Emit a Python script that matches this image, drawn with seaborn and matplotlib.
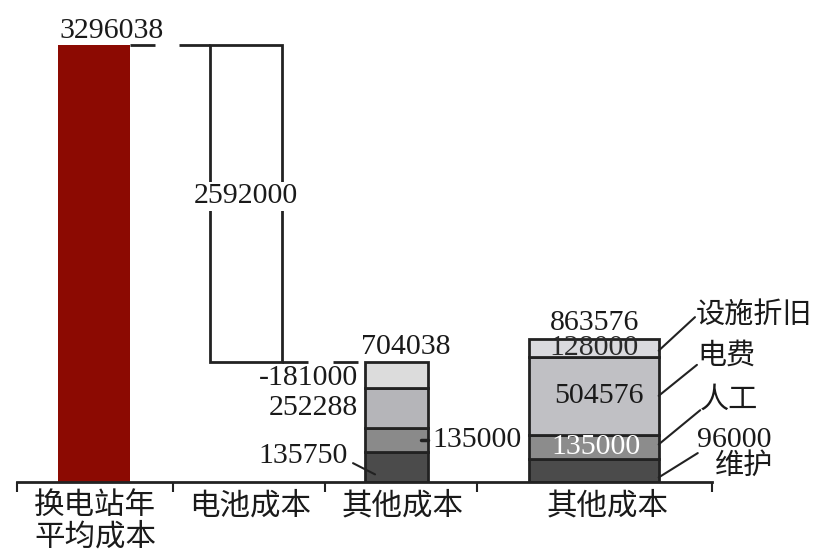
import numpy as np
import matplotlib
matplotlib.use("Agg")
import matplotlib.pyplot as plt
import seaborn as sns

# ---- data -------------------------------------------------------------
station_total = 3296038          # 换电站年平均成本
battery_cost = 2592000           # 电池成本

# 其他成本 (first breakdown), bottom -> top
other_a_values = [135750, 135000, 252288, 181000]
other_a_texts = ["135750", "135000", "252288", "-181000"]

# 其他成本 (second breakdown), bottom -> top
other_b_names = ["维护", "人工", "电费", "设施折旧"]
other_b_values = [96000, 135000, 504576, 128000]

category_labels = ["换电站年\n平均成本", "电池成本", "其他成本", "其他成本"]

# ---- styling ------------------------------------------------------------
sns.set_theme(style="white")
plt.rcParams["font.family"] = ["Liberation Serif", "Noto Sans CJK SC", "DejaVu Sans"]
NUM_FONT = ["Liberation Serif", "DejaVu Serif"]
CJK_FONT = ["Noto Sans CJK SC", "DejaVu Sans"]
NUM_FS = 21.5
CJK_FS = 22
INK = "#222222"
TXT = "#1a1a1a"

red = "#8c0a02"
colors_a = ["#4b4b4b", "#8a8a8a", "#b5b5b9", "#dcdcdc"]
colors_b = ["#4b4b4b", "#8c8c8c", "#c0c0c4", "#dadade"]

# compressed (power) value axis so the small cost items stay readable
POWER = 0.835


def fwd(v):
    v = np.asarray(v, dtype=float)
    return np.sign(v) * np.abs(v) ** POWER


def inv(y):
    y = np.asarray(y, dtype=float)
    return np.sign(y) * np.abs(y) ** (1 / POWER)


def seg_pos(bottom, height, frac):
    """Value lying at a given fraction of a segment on the compressed axis."""
    lo, hi = fwd(bottom), fwd(bottom + height)
    return float(inv(lo + frac * (hi - lo)))


# layout (x in slot units)
centers = [0.0, 1.0, 1.99, 3.29]
widths = [0.474, 0.474, 0.414, 0.85]
dividers = [-0.507, 0.52, 1.52, 2.52, 4.066]
label_x = [0.007, 1.03, 2.03, 3.38]

fig = plt.figure(figsize=(8.18, 5.56), dpi=100)
ax = fig.add_axes([0, 74 / 556, 1, 482 / 556])
ax.set_facecolor("white")

# total bar
sns.barplot(x=[centers[0]], y=[station_total], native_scale=True,
            width=widths[0], color=red, saturation=1, edgecolor=red,
            linewidth=0, ax=ax)

# floating battery bar
other_a_total = sum(other_a_values)
other_b_total = sum(other_b_values)
battery_bottom = station_total - battery_cost
ax.bar(centers[1], battery_cost, bottom=battery_bottom, width=widths[1],
       facecolor="white", edgecolor=INK, linewidth=2)


# stacked breakdowns
def stack(xc, w, values, cols):
    bottoms = []
    b = 0
    for v, c in zip(values, cols):
        ax.bar(xc, v, bottom=b, width=w, facecolor=c, edgecolor=INK, linewidth=2)
        bottoms.append(b)
        b += v
    return bottoms


bots_a = stack(centers[2], widths[2], other_a_values, colors_a)
bots_b = stack(centers[3], widths[3], other_b_values, colors_b)

ax.set_yscale("function", functions=(fwd, inv))
ax.set_ylim(0, float(inv(fwd(station_total) * 482 / 437)))


# broken connector lines
def connector(x0, x1, y, first=0.31, second=0.61, end=1.0):
    span = x1 - x0
    ax.plot([x0, x0 + first * span], [y, y], color=INK, lw=2, solid_capstyle="butt")
    ax.plot([x0 + second * span, x0 + end * span], [y, y], color=INK, lw=2,
            solid_capstyle="butt")


b1_right = centers[0] + widths[0] / 2
b2_left = centers[1] - widths[1] / 2
b2_right = centers[1] + widths[1] / 2
b3_left = centers[2] - widths[2] / 2
b3_right = centers[2] + widths[2] / 2
b4_right = centers[3] + widths[3] / 2

connector(b1_right, b2_left, station_total)
connector(b2_right, b3_left, battery_bottom, end=0.916)

# ---- value labels -------------------------------------------------------
num = dict(family=NUM_FONT, fontsize=NUM_FS, color=TXT)

ax.annotate(f"{station_total}", xy=(centers[0] - widths[0] / 2, station_total),
            xytext=(1, 1), textcoords="offset points", ha="left", va="bottom", **num)
ax.annotate(f"{battery_cost}",
            xy=(centers[1], seg_pos(battery_bottom, battery_cost, 0.5)),
            xytext=(0, 5), textcoords="offset points", ha="center", va="center",
            bbox=dict(facecolor="white", edgecolor="none", pad=1), **num)
ax.annotate(f"{other_a_total}", xy=(b3_left, other_a_total), xytext=(-3, 1),
            textcoords="offset points", ha="left", va="bottom", **num)
ax.annotate(f"{other_b_total}", xy=(centers[3], other_b_total), xytext=(0, 2),
            textcoords="offset points", ha="center", va="bottom", **num)

# first breakdown labels
mid_a = [seg_pos(b, v, 0.5) for b, v in zip(bots_a, other_a_values)]
ax.annotate(other_a_texts[3], xy=(b3_left, mid_a[3]), xytext=(-5, -2.5),
            textcoords="offset points", ha="right", va="center", **num)
ax.annotate(other_a_texts[2], xy=(b3_left, mid_a[2]), xytext=(-5, 0),
            textcoords="offset points", ha="right", va="center", **num)
ax.annotate(other_a_texts[0],
            xy=(b3_left + 0.066, seg_pos(0, other_a_values[0], 0.25)),
            xytext=(-20, 13), textcoords="offset points", ha="right", va="center",
            arrowprops=dict(arrowstyle="-", color=INK, lw=1.5, relpos=(1, 0.35),
                            shrinkA=2, shrinkB=0), **num)
ax.plot([b3_right - 0.046, b3_right], [mid_a[1], mid_a[1]], color=INK, lw=2.5)
ax.annotate(other_a_texts[1], xy=(b3_right, mid_a[1]), xytext=(3, 0),
            textcoords="offset points", ha="left", va="center", **num)

# second breakdown inner labels
mid_b = [seg_pos(b, v, 0.5) for b, v in zip(bots_b, other_b_values)]
inner = dict(family=NUM_FONT, fontsize=NUM_FS, ha="center", va="center")
ax.text(centers[3], mid_b[3], f"{other_b_values[3]}", color="#2a2a2a", **inner)
ax.text(centers[3] + 0.03, mid_b[2], f"{other_b_values[2]}", color=TXT, **inner)
ax.text(centers[3] + 0.01, mid_b[1], f"{other_b_values[1]}", color="white", **inner)

# callouts on the right
cjk = dict(family=CJK_FONT, fontsize=21, color=TXT)
ends = {"设施折旧": (0.8496, 0.342), "电费": (0.852, 0.243),
        "人工": (0.856, 0.149), "维护": (0.853, 0.060)}
starts = {"设施折旧": 0.36, "电费": 0.5, "人工": 0.6, "维护": 0.2}
for name, b, v in zip(other_b_names, bots_b, other_b_values):
    ax.annotate("", xy=(b4_right, seg_pos(b, v, starts[name])), xytext=ends[name],
                textcoords="axes fraction",
                arrowprops=dict(arrowstyle="-", color=INK, lw=1.5,
                                shrinkA=0, shrinkB=0))

ax.text(0.850, 0.346, "设施折旧", transform=ax.transAxes, ha="left", va="center", **cjk)
ax.text(0.852, 0.263, "电费", transform=ax.transAxes, ha="left", va="center", **cjk)
ax.text(0.856, 0.170, "人工", transform=ax.transAxes, ha="left", va="center", **cjk)
ax.text(0.852, 0.087, f"{other_b_values[0]}", transform=ax.transAxes,
        ha="left", va="center", **num)
ax.text(0.874, 0.033, "维护", transform=ax.transAxes, ha="left", va="center", **cjk)

# ---- axes ---------------------------------------------------------------
ax.set_xlim(-94 / 152, (818 - 94) / 152)
for side in ("left", "right", "top"):
    ax.spines[side].set_visible(False)
ax.spines["bottom"].set_color(INK)
ax.spines["bottom"].set_linewidth(2)
ax.spines["bottom"].set_bounds(dividers[0], dividers[-1])
ax.set_xticks(dividers)
ax.set_xticklabels([""] * len(dividers))
ax.set_yticks([])
ax.minorticks_off()
ax.tick_params(axis="x", bottom=True, direction="out", length=7, width=1.5,
               color=INK)
ax.set_xlabel("")
ax.set_ylabel("")

for x, lab in zip(label_x, category_labels):
    ax.annotate(lab, xy=(x, 0), xytext=(0, -6), textcoords="offset points",
                ha="center", va="top", family=CJK_FONT, fontsize=CJK_FS,
                color=TXT, linespacing=1.0, annotation_clip=False)

fig.savefig("out.png", dpi=100, facecolor="white")
